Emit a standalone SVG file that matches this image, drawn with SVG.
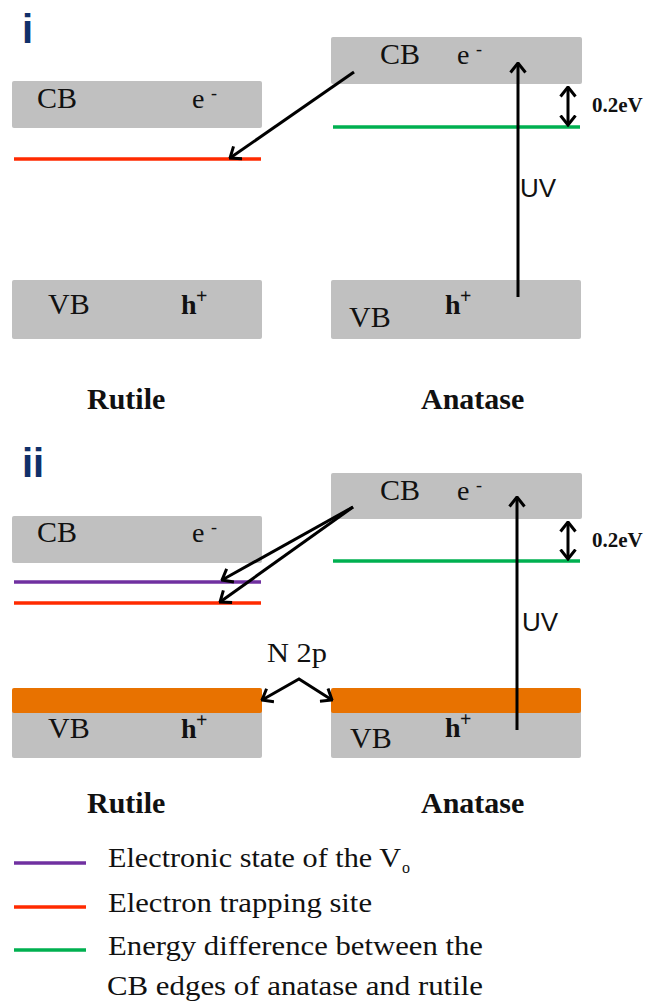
<svg xmlns="http://www.w3.org/2000/svg" width="654" height="1002" viewBox="0 0 654 1002">
<style>
.band{fill:#c0c0c0}
.t{font-family:'Liberation Serif','DejaVu Serif','Times New Roman',Times,serif;fill:#111}
.b{font-weight:bold}
.lbl{font-family:'Liberation Sans',Arial,sans-serif;font-weight:bold;fill:#10306a;font-size:40px}
.uv{font-family:'Liberation Sans',Arial,sans-serif;font-size:26px;fill:#111}
.arr{stroke:#000;stroke-width:3;fill:none}
.red{stroke:#ff2a00;stroke-width:3.5}
.pur{stroke:#7030a0;stroke-width:3.5}
.grn{stroke:#00b050;stroke-width:3.5}
.org{fill:#e87200}
</style>
<defs>
<marker id="ah" markerUnits="userSpaceOnUse" viewBox="0 0 12 18" markerWidth="12" markerHeight="18" refX="10.5" refY="9" orient="auto-start-reverse">
<path d="M1,1.5 L10.5,9 L1,16.5" fill="none" stroke="#000" stroke-width="3"/>
</marker>
</defs>
<rect width="654" height="1002" fill="#fff"/>

<g id="panel-i-label"><text class="lbl" x="22" y="43">i</text></g>

<g id="rutile-cb-i">
<rect class="band" x="12" y="81" width="250" height="47" rx="2"/>
<text class="t" font-family="Liberation Serif, serif" x="37" y="108" font-size="30">CB</text>
<text class="t" font-family="Liberation Serif, serif" x="192" y="108" font-size="28">e<tspan x="211" dy="-9" font-size="18">-</tspan></text>
</g>
<g id="rutile-trap-i"><line class="red" x1="14" y1="159" x2="261" y2="159"/></g>
<g id="rutile-vb-i">
<rect class="band" x="12" y="280" width="250" height="59" rx="2"/>
<text class="t" x="48" y="314" font-size="30">VB</text>
<text class="t b" x="181" y="314" font-size="28">h<tspan x="196" dy="-11" font-size="20">+</tspan></text>
</g>
<g id="rutile-label-i"><text class="t b" x="87" y="409" font-size="30">Rutile</text></g>

<g id="anatase-cb-i">
<rect class="band" x="331" y="37" width="251" height="47" rx="2"/>
<text class="t" x="380" y="64" font-size="30">CB</text>
<text class="t" x="457" y="64" font-size="28">e<tspan x="476" dy="-9" font-size="18">-</tspan></text>
</g>
<g id="anatase-edge-i"><line class="grn" x1="333" y1="127" x2="580" y2="127"/></g>
<g id="anatase-vb-i">
<rect class="band" x="331" y="280" width="250" height="59" rx="2"/>
<text class="t" x="349" y="327" font-size="30">VB</text>
<text class="t b" x="445" y="314" font-size="28">h<tspan x="460" dy="-11" font-size="20">+</tspan></text>
</g>
<g id="anatase-label-i"><text class="t b" x="421" y="409" font-size="30">Anatase</text></g>
<g id="gap-label-i"><text class="t b" x="592" y="112" font-size="21">0.2eV</text></g>
<g id="uv-label-i"><text class="uv" x="520" y="197">UV</text></g>

<g id="panel-ii-label"><text class="lbl" x="22" y="477">ii</text></g>

<g id="rutile-cb-ii">
<rect class="band" x="12" y="516" width="250" height="47" rx="2"/>
<text class="t" x="37" y="542" font-size="30">CB</text>
<text class="t" x="192" y="542" font-size="28">e<tspan x="211" dy="-9" font-size="18">-</tspan></text>
</g>
<g id="rutile-vo-ii"><line class="pur" x1="14" y1="582" x2="261" y2="582"/></g>
<g id="rutile-trap-ii"><line class="red" x1="14" y1="603" x2="261" y2="603"/></g>
<g id="rutile-vb-ii">
<rect class="band" x="12" y="700" width="250" height="58" rx="2"/>
<rect class="org" x="12" y="688" width="250" height="25" rx="2"/>
<text class="t" x="48" y="738" font-size="30">VB</text>
<text class="t b" x="181" y="738" font-size="28">h<tspan x="196" dy="-11" font-size="20">+</tspan></text>
</g>
<g id="rutile-label-ii"><text class="t b" x="87" y="813" font-size="30">Rutile</text></g>

<g id="anatase-cb-ii">
<rect class="band" x="331" y="473" width="251" height="46" rx="2"/>
<text class="t" x="380" y="500" font-size="30">CB</text>
<text class="t" x="457" y="500" font-size="28">e<tspan x="476" dy="-9" font-size="18">-</tspan></text>
</g>
<g id="anatase-edge-ii"><line class="grn" x1="333" y1="561" x2="580" y2="561"/></g>
<g id="anatase-vb-ii">
<rect class="band" x="331" y="700" width="250" height="58" rx="2"/>
<rect class="org" x="331" y="688" width="250" height="25" rx="2"/>
<text class="t" x="350" y="748" font-size="30">VB</text>
<text class="t b" x="445" y="737" font-size="28">h<tspan x="460" dy="-11" font-size="20">+</tspan></text>
</g>
<g id="anatase-label-ii"><text class="t b" x="421" y="813" font-size="30">Anatase</text></g>
<g id="gap-label-ii"><text class="t b" x="592" y="547" font-size="21">0.2eV</text></g>
<g id="uv-label-ii"><text class="uv" x="522" y="631">UV</text></g>
<g id="n2p-label"><text class="t" x="267" y="662" font-size="28" textLength="60" lengthAdjust="spacingAndGlyphs">N 2p</text></g>

<g id="connectors">
<line class="arr" x1="354" y1="72" x2="230" y2="158" marker-end="url(#ah)"/>
<line class="arr" x1="518" y1="297" x2="518" y2="63" marker-end="url(#ah)"/>
<line class="arr" x1="568" y1="87" x2="568" y2="125" marker-start="url(#ah)" marker-end="url(#ah)"/>
<line class="arr" x1="353" y1="507" x2="222" y2="580" marker-end="url(#ah)"/>
<line class="arr" x1="353" y1="507" x2="220" y2="602" marker-end="url(#ah)"/>
<line class="arr" x1="517" y1="730" x2="517" y2="497" marker-end="url(#ah)"/>
<line class="arr" x1="568" y1="522" x2="568" y2="559" marker-start="url(#ah)" marker-end="url(#ah)"/>
<polyline class="arr" points="262,700 299,679 332,700" marker-start="url(#ah)" marker-end="url(#ah)"/>
</g>

<g id="legend">
<line class="pur" x1="14" y1="863" x2="86" y2="863"/>
<text class="t" x="108" y="867" font-size="28" textLength="293" lengthAdjust="spacingAndGlyphs">Electronic state of the V</text>
<text class="t" x="402" y="873" font-size="16">o</text>
<line class="red" x1="14" y1="907" x2="86" y2="907"/>
<text class="t" x="108" y="912" font-size="28" textLength="264" lengthAdjust="spacingAndGlyphs">Electron trapping site</text>
<line class="grn" x1="14" y1="950" x2="86" y2="950"/>
<text class="t" x="108" y="955" font-size="28" textLength="375" lengthAdjust="spacingAndGlyphs">Energy difference between the</text>
<text class="t" x="107" y="995" font-size="28" textLength="376" lengthAdjust="spacingAndGlyphs">CB edges of anatase and rutile</text>
</g>
</svg>
